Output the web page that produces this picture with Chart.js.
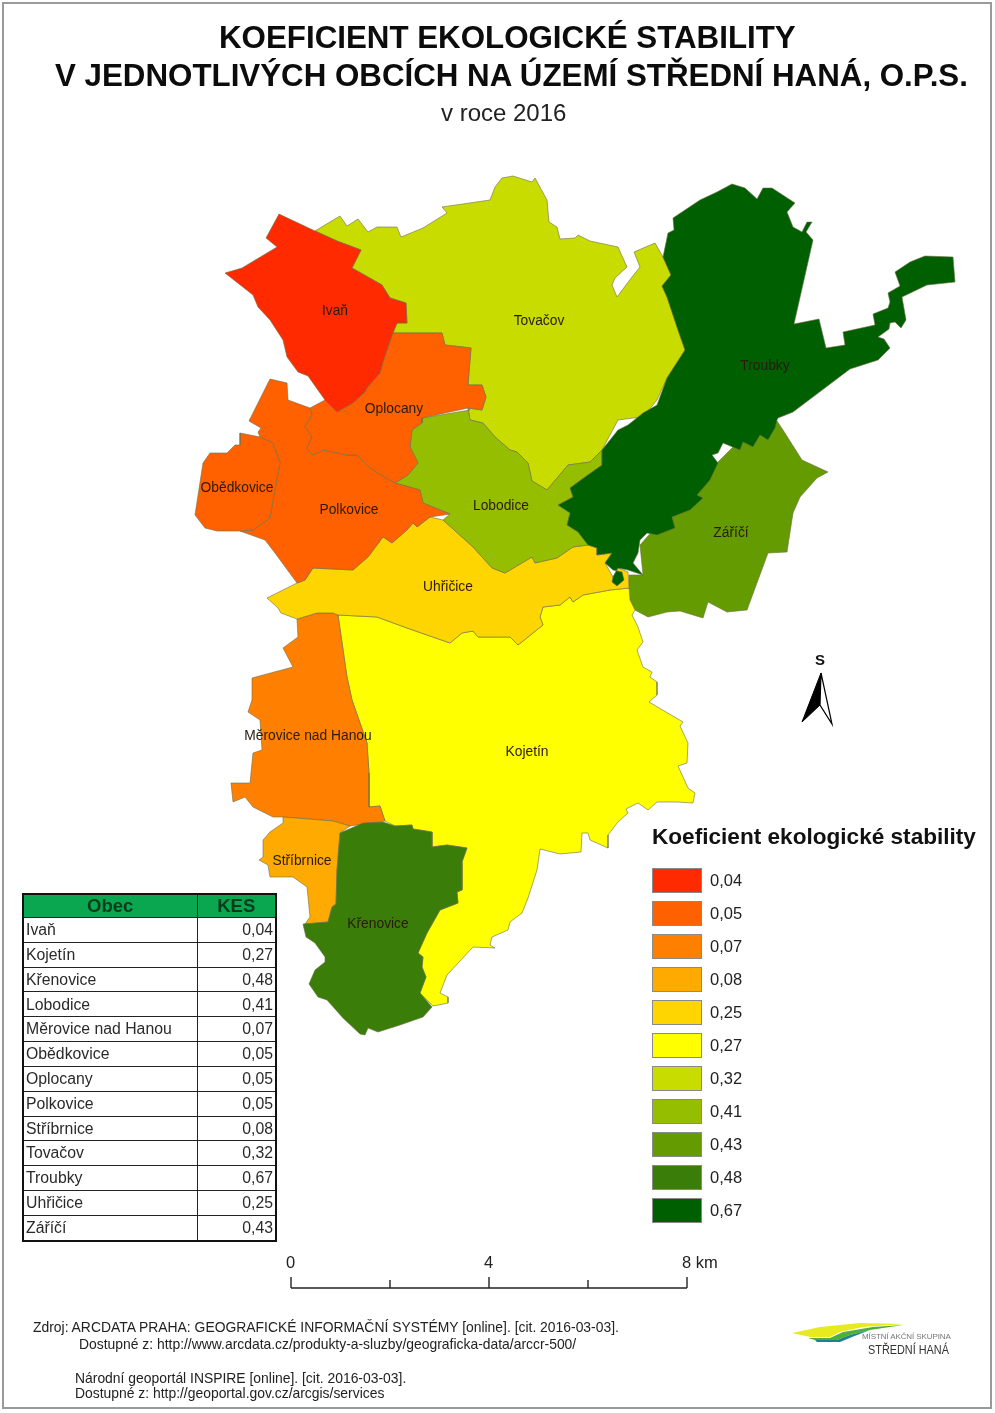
<!DOCTYPE html>
<html lang="cs">
<head>
<meta charset="utf-8">
<title>Koeficient ekologické stability</title>
<script src="https://cdn.jsdelivr.net/npm/chart.js@4"></script>
<style>
  html, body { margin: 0; padding: 0; background: #fff; }
  body { width: 995px; height: 1413px; position: relative; overflow: hidden; font-family: "Liberation Sans", Arial, sans-serif; color: #111; }
  canvas { position: absolute; left: 0; top: 0; }
  .frame { position: absolute; left: 2px; top: 2px; width: 986px; height: 1403px; border: 2px solid #9a9a9a; }
  .txt { position: absolute; white-space: nowrap; line-height: 1; }
  .title { font-weight: bold; font-size: 31.3px; color: #0c0c0c; }
  .source { font-size: 13.9px; color: #222; }
  .swatch { position: absolute; left: 652px; width: 48px; height: 23px; border: 1px solid #8a8a8a; }
  table { position: absolute; left: 22px; top: 893px; width: 255px; border-collapse: collapse; border: 2px solid #111; table-layout: fixed; font-size: 15.8px; color: #2a2a2a; }
  th, td { border: 1px solid #222; padding: 0 2px 0 2px; height: 23.83px; box-sizing: content-box; line-height: 1; white-space: nowrap; overflow: hidden; }
  th { background: #0aa650; font-size: 18.5px; color: #063c1c; text-align: center; padding: 0; height: 22px; }
  td + td { text-align: right; }
</style>
</head>
<body>
<canvas id="map" width="995" height="1413"></canvas>
<div class="frame"></div>
<div class="txt title" style="left:219px;top:22px">KOEFICIENT EKOLOGICKÉ STABILITY</div>
<div class="txt title" style="left:55px;top:60px">V JEDNOTLIVÝCH OBCÍCH NA ÚZEMÍ STŘEDNÍ HANÁ, O.P.S.</div>
<div class="txt" style="left:441px;top:101px;font-size:24px;color:#222">v roce 2016</div>
<div class="txt" style="left:815px;top:652px;font-size:15px;font-weight:bold">S</div>
<div class="txt" style="left:652px;top:826px;font-size:22.6px;font-weight:bold">Koeficient ekologické stability</div>
<div id="legend"></div>
<table id="kesTable"></table>
<div id="scaleLabels"></div>
<div class="txt source" style="left:33px;top:1321px">Zdroj: ARCDATA PRAHA: GEOGRAFICKÉ INFORMAČNÍ SYSTÉMY [online]. [cit. 2016-03-03].</div>
<div class="txt source" style="left:79px;top:1338px">Dostupné z: http://www.arcdata.cz/produkty-a-sluzby/geograficka-data/arccr-500/</div>
<div class="txt source" style="left:75px;top:1372px">Národní geoportál INSPIRE [online]. [cit. 2016-03-03].</div>
<div class="txt source" style="left:75px;top:1387px">Dostupné z: http://geoportal.gov.cz/arcgis/services</div>
<div class="txt" style="left:862px;top:1333px;font-size:8px;color:#777;letter-spacing:-.1px">MÍSTNÍ AKČNÍ SKUPINA</div>
<div class="txt" style="left:868px;top:1344px;font-size:12.5px;color:#333;transform:scaleX(.87);transform-origin:left top">STŘEDNÍ HANÁ</div>
<script>
// table values, as printed next to the map
const obce = ['Ivaň', 'Kojetín', 'Křenovice', 'Lobodice', 'Měrovice nad Hanou', 'Obědkovice', 'Oplocany',
  'Polkovice', 'Stříbrnice', 'Tovačov', 'Troubky', 'Uhřičice', 'Záříčí'];
const kes = [0.04, 0.27, 0.48, 0.41, 0.07, 0.05, 0.05, 0.05, 0.08, 0.32, 0.67, 0.25, 0.43];

// legend classes
const classValues = [0.04, 0.05, 0.07, 0.08, 0.25, 0.27, 0.32, 0.41, 0.43, 0.48, 0.67];
const classColors = ['#ff2a00', '#ff6000', '#ff8000', '#ffaa00', '#ffd500', '#ffff00',
  '#c8dc00', '#96be00', '#649b00', '#3a7d08', '#005f00'];

// municipality outlines, [x, y] in map units
const tovacov = [[315,231],[340,216],[347,226],[358,219],[368,232],[377,227],[397,227],[401,237],[423,228],[447,213],[442,207],[490,200],[495,187],[502,178],[513,176],[532,182],[535,178],[547,200],[549,222],[557,227],[560,239],[575,238],[578,235],[590,241],[618,247],[627,267],[615,278],[612,285],[617,297],[632,277],[640,267],[634,252],[655,243],[663,257],[671,275],[662,286],[667,297],[678,330],[685,350],[667,378],[657,400],[643,417],[633,418],[618,420],[602,450],[590,462],[568,465],[547,490],[532,481],[528,463],[517,452],[510,450],[495,437],[483,423],[470,420],[468,408],[482,410],[486,397],[482,385],[468,385],[471,348],[445,345],[442,333],[393,333],[397,323],[407,323],[406,303],[390,298],[382,285],[352,268],[361,250],[337,241]];
const zarici = [[772,418],[777,421],[783,430],[802,460],[828,472],[817,478],[800,497],[793,513],[787,552],[768,553],[747,610],[727,612],[708,602],[703,618],[680,611],[667,612],[648,617],[635,610],[630,600],[629,588],[629,575],[643,575],[640,545],[680,500],[740,440]];
const kojetin = [[338,615],[377,617],[407,628],[450,643],[462,633],[473,631],[478,637],[510,637],[518,645],[543,625],[540,617],[543,607],[560,605],[570,597],[573,602],[583,595],[610,590],[629,588],[630,600],[635,610],[632,615],[638,627],[643,642],[637,650],[643,667],[652,672],[650,677],[657,682],[657,695],[649,702],[683,722],[680,726],[688,743],[687,763],[678,766],[683,777],[688,788],[695,793],[693,803],[677,802],[657,802],[648,810],[638,803],[626,809],[628,813],[618,822],[608,835],[608,848],[590,840],[588,833],[582,833],[581,852],[560,854],[540,849],[537,870],[528,898],[522,913],[510,922],[508,930],[492,937],[490,945],[495,948],[473,947],[447,975],[440,993],[448,997],[448,1003],[433,1006],[420,993],[426,977],[422,967],[423,957],[418,953],[427,933],[440,910],[458,903],[457,892],[462,890],[462,862],[467,848],[447,845],[432,847],[432,832],[413,829],[412,825],[395,826],[385,821],[380,806],[369,807],[369,773],[367,743],[352,700],[347,677]];
const merovice = [[297,619],[317,613],[333,613],[338,615],[347,677],[352,700],[367,743],[369,773],[369,807],[380,806],[385,821],[350,826],[333,821],[283,817],[273,817],[253,807],[245,797],[233,802],[231,783],[250,783],[253,753],[262,750],[260,720],[248,712],[252,700],[252,678],[293,667],[283,648],[298,637]];
const stribrnice = [[283,817],[333,821],[350,826],[340,833],[337,870],[336,904],[332,907],[328,922],[305,924],[310,917],[307,887],[293,877],[270,877],[268,865],[259,860],[263,857],[263,840],[270,832],[283,823]];
const uhricice = [[267,598],[297,583],[305,580],[313,568],[353,570],[368,557],[383,537],[392,543],[407,530],[413,523],[417,527],[430,517],[443,520],[473,547],[492,568],[505,573],[532,557],[535,563],[557,558],[573,547],[588,545],[597,548],[597,555],[612,553],[605,563],[613,577],[618,568],[628,572],[629,588],[610,590],[583,595],[573,602],[570,597],[560,605],[543,607],[540,617],[543,625],[518,645],[510,637],[478,637],[473,631],[462,633],[450,643],[407,628],[377,617],[338,615],[333,613],[317,613],[297,619],[281,613],[278,608]];
const lobodice = [[422,418],[470,410],[468,408],[470,420],[483,423],[495,437],[510,450],[517,452],[528,463],[532,481],[547,490],[568,465],[590,462],[602,450],[602,465],[585,477],[570,488],[573,497],[558,505],[570,513],[567,525],[578,532],[588,545],[573,547],[557,558],[535,563],[532,557],[505,573],[492,568],[473,547],[443,520],[450,514],[423,503],[420,490],[395,483],[408,475],[418,463],[410,447],[412,430],[422,423]];
const polkovice = [[270,379],[287,383],[288,400],[310,408],[312,415],[305,427],[312,437],[307,448],[313,455],[323,450],[347,455],[357,455],[373,470],[395,483],[420,490],[423,503],[450,514],[430,517],[417,527],[413,523],[407,530],[392,543],[383,537],[368,557],[353,570],[313,568],[305,580],[297,583],[275,553],[265,540],[240,531],[253,530],[270,518],[273,500],[280,463],[273,443],[260,437],[258,432],[261,428],[249,421]];
const obedkovice = [[240,433],[240,445],[235,445],[227,453],[210,453],[203,463],[195,515],[205,528],[217,531],[240,531],[253,530],[270,518],[273,500],[280,463],[273,443],[260,437]];
const oplocany = [[393,333],[442,333],[445,345],[471,348],[468,385],[482,385],[486,397],[482,410],[468,408],[422,418],[422,423],[412,430],[410,447],[418,463],[408,475],[395,483],[373,470],[357,455],[347,455],[323,450],[313,455],[307,448],[312,437],[305,427],[312,415],[310,408],[325,400],[337,412],[353,403],[365,392],[367,388],[380,373],[383,362],[387,350]];
const ivan = [[279,214],[315,231],[337,241],[361,250],[352,268],[382,285],[390,298],[406,303],[407,323],[397,323],[393,333],[387,350],[383,362],[380,373],[367,388],[365,392],[353,403],[337,412],[325,400],[308,376],[298,372],[287,357],[283,340],[270,320],[258,307],[253,295],[225,273],[242,268],[277,247],[266,238]];
const krenovice = [[340,833],[363,823],[383,822],[395,826],[412,825],[413,829],[432,832],[432,847],[447,845],[467,848],[462,862],[462,890],[457,892],[458,903],[440,910],[427,933],[418,953],[423,957],[422,967],[426,977],[420,993],[432,1007],[423,1017],[400,1025],[378,1032],[368,1028],[365,1035],[360,1034],[343,1018],[327,1000],[318,997],[309,984],[315,970],[325,962],[325,957],[315,943],[306,937],[303,924],[328,922],[332,907],[336,904],[337,870]];
const troubky = [[673,218],[700,200],[717,192],[732,184],[745,188],[757,199],[763,188],[772,188],[795,203],[787,212],[793,227],[802,232],[807,222],[812,222],[806,232],[813,240],[794,324],[819,319],[826,348],[845,345],[843,332],[875,325],[873,314],[888,308],[890,302],[888,293],[900,286],[895,272],[910,262],[925,256],[953,257],[955,282],[927,285],[902,297],[906,320],[901,328],[895,322],[890,323],[889,329],[878,337],[884,339],[890,348],[878,360],[850,369],[793,412],[778,418],[777,420],[775,428],[768,440],[760,435],[753,447],[743,442],[740,450],[723,443],[718,453],[712,455],[718,463],[710,480],[697,495],[703,498],[690,510],[672,517],[675,528],[657,535],[647,533],[640,540],[638,553],[633,563],[643,575],[628,570],[618,568],[613,577],[612,582],[617,586],[624,580],[622,572],[613,570],[605,563],[612,553],[597,555],[597,548],[588,545],[578,532],[567,525],[570,513],[558,505],[573,497],[570,488],[585,477],[602,465],[602,450],[618,430],[628,425],[643,413],[657,405],[667,378],[685,350],[678,330],[667,297],[662,286],[671,275],[663,257],[668,233],[674,230]];

// map labels
const labelNames = ['Ivaň', 'Tovačov', 'Troubky', 'Oplocany', 'Obědkovice', 'Polkovice', 'Lobodice', 'Záříčí',
  'Uhřičice', 'Měrovice nad Hanou', 'Kojetín', 'Stříbrnice', 'Křenovice'];
const labelX = [335, 539, 765, 394, 237, 349, 501, 731, 448, 308, 527, 302, 378];
const labelY = [311, 321, 366, 409, 488, 510, 506, 533, 587, 736, 752, 861, 924];

// scale bar (km) and its tick labels
const scaleKm = [0, 2, 4, 6, 8];
const scaleLabels = ['0', '4', '8 km'];
const northDark = [[821,673],[802,722],[820,705]];
const northLight = [[821,673],[820,705],[832,724]];
const logoYellow = [[792,1333],[820,1327],[860,1323],[905,1324],[863,1327],[840,1332],[830,1337],[810,1337]];
const logoGreen = [[808,1338],[830,1338],[843,1332],[873,1327],[903,1325],[870,1330],[850,1335],[837,1340],[815,1340]];
const logoBlue = [[815,1340],[837,1340],[850,1335],[870,1330],[852,1337],[840,1342],[817,1342]];

const fmt = v => v.toFixed(2).replace('.', ',');
const colorOf = v => classColors[classValues.indexOf(v)];
const kesOf = name => kes[obce.indexOf(name)];

function polygon(points, fillColor, lineColor, lineWidth) {
  const pts = points.concat([points[0]]).map(p => ({ x: p[0], y: p[1] }));
  return {
    data: pts, showLine: true, fill: 'shape', tension: 0,
    backgroundColor: fillColor, borderColor: lineColor, borderWidth: lineWidth,
    pointRadius: 0, pointHoverRadius: 0, clip: false
  };
}

function line(points, width) {
  return {
    data: points.map(p => ({ x: p[0], y: p[1] })), showLine: true, fill: false, tension: 0,
    borderColor: '#222', borderWidth: width, pointRadius: 0, clip: false
  };
}

// bottom-most first, neighbours on top hide the rough shared edges
const edge = 'rgba(110,110,70,0.6)';
const layers = [
  [tovacov, 'Tovačov'], [zarici, 'Záříčí'], [kojetin, 'Kojetín'], [merovice, 'Měrovice nad Hanou'],
  [stribrnice, 'Stříbrnice'], [uhricice, 'Uhřičice'], [lobodice, 'Lobodice'], [polkovice, 'Polkovice'],
  [obedkovice, 'Obědkovice'], [oplocany, 'Oplocany'], [ivan, 'Ivaň'], [krenovice, 'Křenovice'], [troubky, 'Troubky']
];
const datasets = layers.map(l => polygon(l[0], colorOf(kesOf(l[1])), edge, 1));

// scale bar
const barX = km => 291 + km * 49.5;
datasets.push(line(scaleKm.map(km => [barX(km), 1288]), 1.6));
scaleKm.forEach((km, i) => datasets.push(line([[barX(km), i % 2 ? 1280 : 1277], [barX(km), 1288]], 1.4)));

// north arrow and logo
datasets.push(polygon(northDark, '#000', '#000', 1));
datasets.push(polygon(northLight, '#fff', '#000', 1.2));
datasets.push(polygon(logoYellow, '#e6ea1e', '#e6ea1e', 0));
datasets.push(polygon(logoGreen, '#4fae3c', '#4fae3c', 0));
datasets.push(polygon(logoBlue, '#1f7f8c', '#1f7f8c', 0));
datasets.forEach((d, i) => { d.order = datasets.length - i; });

const mapLabels = {
  id: 'mapLabels',
  afterDatasetsDraw(chart) {
    const { ctx, scales } = chart;
    ctx.save();
    ctx.font = '13.8px "Liberation Sans"';
    ctx.fillStyle = '#2a1a10';
    ctx.textAlign = 'center';
    ctx.textBaseline = 'middle';
    labelNames.forEach((name, i) => {
      ctx.fillText(name, scales.x.getPixelForValue(labelX[i]), scales.y.getPixelForValue(labelY[i]));
    });
    ctx.restore();
  }
};

new Chart(document.getElementById('map'), {
  type: 'scatter',
  data: { datasets },
  options: {
    responsive: false,
    animation: false,
    layout: { padding: 0 },
    scales: {
      x: { type: 'linear', min: 0, max: 995, display: false },
      y: { type: 'linear', min: 0, max: 1413, reverse: true, display: false }
    },
    plugins: { legend: { display: false }, tooltip: { enabled: false } }
  },
  plugins: [mapLabels]
});

// legend
document.getElementById('legend').innerHTML = classValues.map((v, i) => {
  const y = 868 + i * 33;
  return `<div class="swatch" style="top:${y}px;background:${classColors[i]}"></div>` +
    `<div class="txt" style="left:710px;top:${y + 4}px;font-size:16.5px;color:#222">${fmt(v)}</div>`;
}).join('');

// table
document.getElementById('kesTable').innerHTML =
  '<colgroup><col style="width:174px"><col></colgroup><tr><th>Obec</th><th>KES</th></tr>' +
  obce.map((name, i) => `<tr><td>${name}</td><td>${fmt(kes[i])}</td></tr>`).join('');

// scale labels
document.getElementById('scaleLabels').innerHTML = scaleLabels.map((t, i) =>
  `<div class="txt" style="left:${barX(i * 4) - 5}px;top:1254px;font-size:16.5px;color:#222">${t}</div>`
).join('');
</script>
</body>
</html>
